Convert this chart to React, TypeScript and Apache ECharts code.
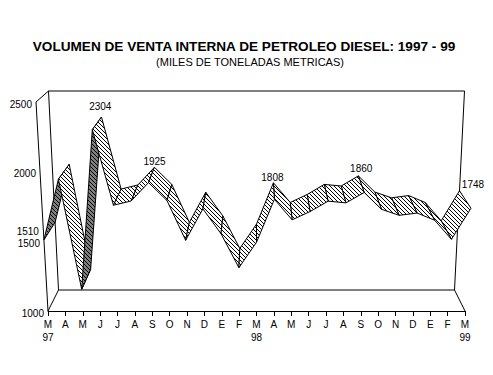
import React, { useEffect, useRef } from "react";
import * as echarts from "echarts";

const months = ["M\n97","A","M","J","J","A","S","O","N","D","E","F","M\n98","A","M","J","J","A","S","O","N","D","E","F","M\n99"];
const tonnes = [1510,1947,1156,2304,1761,1792,1925,1796,1510,1737,1558,1313,1497,1808,1660,1720,1796,1784,1860,1738,1695,1712,1660,1522,1748];
const valueTicks = [1000,1500,2000,2500];
const labelled = [0,3,6,13,18,24];
const darkSegments = [0,2];
const title = "VOLUMEN DE VENTA INTERNA DE PETROLEO DIESEL: 1997 - 99";
const subtitle = "(MILES DE TONELADAS METRICAS)";

const FONT = '"Liberation Sans", Arial, sans-serif';
const G = { left: 48, top: 102, width: 417, height: 209 };
const C = {
  fb: [[48, 311], [465, 311]], ft: [[36, 102], [477, 105]],
  bb: [[58.5, 290], [454.5, 290]], bt: [[48.5, 91], [464.5, 91]],
};
const mix = (a: number[], b: number[], t: number) => [a[0] + (b[0] - a[0]) * t, a[1] + (b[1] - a[1]) * t];
function proj(u: number, v: number, d: number) {
  const f = mix(mix(C.fb[0], C.ft[0], v), mix(C.fb[1], C.ft[1], v), u);
  const b = mix(mix(C.bb[0], C.bt[0], v), mix(C.bb[1], C.bt[1], v), u);
  return mix(f, b, d);
}
const uv = (p: number[]) => [(p[0] - G.left) / G.width, (G.top + G.height - p[1]) / G.height];

function tile(bg: string) {
  const c = document.createElement("canvas");
  c.width = 4; c.height = 4;
  const x = c.getContext("2d")!;
  x.fillStyle = bg; x.fillRect(0, 0, 4, 4);
  x.fillStyle = "#000";
  for (let i = 0; i < 4; i++) x.fillRect(i, i, 1, 1);
  return c;
}

const labelPos: Record<number, [number, number, string]> = {
  0: [-5, -8, "right"], 3: [8, -23, "center"], 6: [6, -21, "center"],
  13: [-2, -22, "center"], 18: [-3, -24, "center"], 24: [2, -24, "center"],
};

export default function App() {
  const ref = useRef<HTMLDivElement>(null);
  useEffect(() => {
    document.body.style.margin = "0";
    const chart = echarts.init(ref.current!, undefined, { renderer: "svg" });
    const light = { image: tile("#fff"), repeat: "repeat" };
    const dark = { image: tile("#808080"), repeat: "repeat" };
    const order: number[] = [];
    for (let i = 0; i < 12; i++) order.push(i);
    for (let i = 23; i >= 12; i--) order.push(i);
    const line = (a: number[], b: number[]) => ({
      type: "line", shape: { x1: a[0], y1: a[1], x2: b[0], y2: b[1] },
      style: { stroke: "#000", lineWidth: 1 },
    });
    chart.setOption({
      animation: false,
      backgroundColor: "#fff",
      title: [
        { text: title, left: 239, top: 34, textAlign: "center", textStyle: { fontFamily: FONT, fontSize: 13.6, fontWeight: "bold", color: "#000" } },
        { text: subtitle, left: 245, top: 51, textAlign: "center", textStyle: { fontFamily: FONT, fontSize: 11, fontWeight: "normal", color: "#000" } },
      ],
      grid: { left: G.left, top: G.top, width: G.width, height: G.height },
      xAxis: {
        type: "category", data: months, boundaryGap: false,
        axisLine: { lineStyle: { color: "#000", width: 1 } },
        axisTick: { alignWithLabel: true, length: 5, lineStyle: { color: "#000" } },
        axisLabel: { interval: 0, color: "#000", fontFamily: FONT, fontSize: 10, lineHeight: 13, margin: 7 },
      },
      yAxis: { type: "value", min: 1000, max: 2500, interval: 500, show: false },
      series: [
        {
          type: "custom", silent: true, z: 1, data: [[0, 1000]],
          renderItem: () => ({
            type: "group",
            children: [
              line(proj(0, 1, 1), proj(1, 1, 1)), line(proj(0, 1, 1), proj(0, 0, 1)),
              line(proj(1, 1, 1), proj(1, 0, 1)), line(proj(0, 0, 1), proj(1, 0, 1)),
              line(proj(0, 1, 0), proj(0, 1, 1)), line(proj(0, 1, 0), proj(0, 0, 0)),
              line(proj(0, 0, 0), proj(0, 0, 1)), line(proj(1, 0, 0), proj(1, 0, 1)),
            ],
          }),
        },
        {
          type: "custom", silent: true, z: 2,
          data: order.map((i) => [i, tonnes[i], tonnes[i + 1]]),
          renderItem: (_: any, api: any) => {
            const i = api.value(0);
            const a = uv(api.coord([i, api.value(1)]));
            const b = uv(api.coord([i + 1, api.value(2)]));
            return {
              type: "polygon",
              shape: { points: [proj(a[0], a[1], 0), proj(b[0], b[1], 0), proj(b[0], b[1], 1), proj(a[0], a[1], 1)] },
              style: { fill: darkSegments.includes(i) ? dark : light, stroke: "#000", lineWidth: 1 },
            };
          },
        },
        {
          type: "custom", silent: true, z: 3, data: valueTicks.map((v) => [0, v]),
          renderItem: (_: any, api: any) => {
            const a = uv(api.coord([0, api.value(1)]));
            const p = proj(a[0], a[1], 0);
            return {
              type: "text", x: p[0] - 4, y: p[1] + 2,
              style: { text: String(api.value(1)), textAlign: "right", textVerticalAlign: "middle", font: `10px ${FONT}`, fill: "#000" },
            };
          },
        },
        {
          type: "custom", silent: true, z: 3, data: labelled.map((i) => [i, tonnes[i]]),
          renderItem: (_: any, api: any) => {
            const i = api.value(0);
            const a = uv(api.coord([i, api.value(1)]));
            const p = proj(a[0], a[1], 0);
            const o = labelPos[i];
            return {
              type: "text", x: p[0] + o[0], y: p[1] + o[1],
              style: { text: String(api.value(1)), textAlign: o[2], textVerticalAlign: "middle", font: `10px ${FONT}`, fill: "#000" },
            };
          },
        },
      ],
    });
    return () => chart.dispose();
  }, []);
  return <div ref={ref} style={{ width: 493, height: 375 }} />;
}
